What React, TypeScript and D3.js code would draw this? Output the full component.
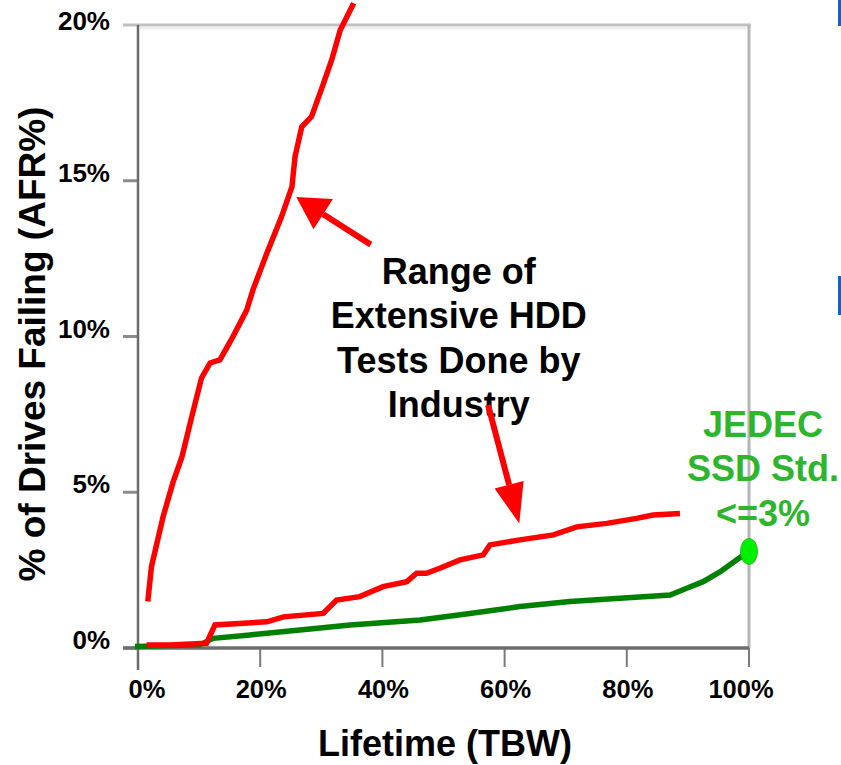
import React from "react";
import * as d3 from "d3";

const xTicks = [0, 20, 40, 60, 80, 100];
const yTicks = [0, 5, 10, 15, 20];

const hddHighX = [1.6, 2.2, 3.1, 4.1, 5.7, 7.2, 8.8, 10.4, 11.8, 13.4, 15.5, 17.8, 18.8, 21.1, 23.5, 25.2, 25.7, 26.8, 28.4, 30.1, 31.7, 33.1, 35.3];
const hddHighY = [1.49, 2.61, 3.37, 4.21, 5.3, 6.14, 7.43, 8.67, 9.15, 9.25, 9.98, 10.85, 11.49, 12.68, 13.85, 14.81, 15.77, 16.73, 17.06, 17.98, 18.88, 19.84, 20.7];

const hddLowX = [1.4, 5.2, 11.2, 12.6, 21.1, 23.8, 30.3, 32.5, 36.3, 40.1, 44.0, 45.6, 47.2, 49.4, 52.7, 56.5, 57.6, 62.5, 68.0, 71.8, 76.7, 81.6, 84.3, 88.7];
const hddLowY = [0.1, 0.1, 0.15, 0.74, 0.84, 1.0, 1.11, 1.54, 1.65, 1.97, 2.13, 2.4, 2.4, 2.56, 2.83, 2.99, 3.31, 3.47, 3.63, 3.89, 4.0, 4.16, 4.27, 4.32];

const ssdX = [-0.5, 10.1, 12.3, 18.3, 26.5, 34.7, 46.2, 54.3, 62.5, 70.7, 78.9, 87.1, 89.8, 92.5, 95.3, 98.0, 99.9];
const ssdY = [0.05, 0.1, 0.31, 0.42, 0.58, 0.74, 0.9, 1.11, 1.33, 1.49, 1.6, 1.7, 1.92, 2.13, 2.45, 2.83, 3.09];

const jedecPoint = { x: 100, y: 3.1 };

const hddLabel = ["Range of", "Extensive HDD", "Tests Done by", "Industry"];
const hddLabelPos = { x: 52.5, y: 11.68 };
const jedecLabel = ["JEDEC", "SSD Std.", "<=3%"];
const jedecLabelPos = { x: 102.3, y: 6.77 };

const arrowTails = [
  { x: 38.1, y: 12.95 },
  { x: 57.3, y: 7.8 },
];
const arrowTips = [
  { x: 25.9, y: 14.48 },
  { x: 62.4, y: 4.0 },
];

const xTitle = "Lifetime (TBW)";
const yTitle = "% of Drives Failing (AFR%)";

const W = 841;
const H = 765;
const FONT = "'Liberation Sans', Arial, sans-serif";

export default function App() {
  const x = d3.scaleLinear().domain([0, 100]).range([138, 749]);
  const y = d3.scaleLinear().domain([0, 20]).range([648, 25]);

  const line = d3
    .line<[number, number]>()
    .x((d) => x(d[0]))
    .y((d) => y(d[1]))
    .curve(d3.curveLinear);

  const zip = (a: number[], b: number[]) => a.map((v, i) => [v, b[i]] as [number, number]);

  const headSizes = [
    { L: 32, W: 18 },
    { L: 40, W: 15 },
  ];

  const arrows = arrowTails.map((t, i) => {
    const tx = x(t.x), ty = y(t.y);
    const px = x(arrowTips[i].x), py = y(arrowTips[i].y);
    const dx = px - tx, dy = py - ty;
    const len = Math.hypot(dx, dy);
    const ux = dx / len, uy = dy / len;
    const { L, W: hw } = headSizes[i];
    const bx = px - ux * L, by = py - uy * L;
    const nx = -uy, ny = ux;
    const head = [
      [px, py],
      [bx + nx * hw, by + ny * hw],
      [bx - nx * hw, by - ny * hw],
    ];
    return { tx, ty, bx, by, head };
  });

  const lineGap = 44.3;

  return (
    <div style={{ position: "absolute", left: 0, top: 0, width: W, height: H, background: "#fff" }}>
      <svg width={W} height={H} style={{ display: "block" }}>
        <rect x={0} y={0} width={W} height={H} fill="#fff" />
        {/* frame */}
        <line x1={123} x2={751} y1={y(20)} y2={y(20)} stroke="#c0c0c0" strokeWidth={3} />
        <line x1={140} x2={748} y1={y(20) + 3} y2={y(20) + 3} stroke="#eeeeee" strokeWidth={3} />
        <line x1={x(100)} x2={x(100)} y1={y(20)} y2={y(0)} stroke="#b5b5b5" strokeWidth={3} />

        {/* y ticks */}
        {yTicks.filter((t) => t !== 20).map((t) => (
          <line key={"yt" + t} x1={123} x2={x(0)} y1={y(t)} y2={y(t)} stroke="#8c8c8c" strokeWidth={3} />
        ))}
        {/* x ticks */}
        {xTicks.filter((t) => t !== 0).map((t) => (
          <line key={"xt" + t} x1={x(t)} x2={x(t)} y1={y(0)} y2={y(0) + 19} stroke="#7a7a7a" strokeWidth={2} />
        ))}
        {/* axes */}
        <line x1={x(0)} x2={x(0)} y1={y(20)} y2={y(0) + 22} stroke="#6b6b6b" strokeWidth={2.5} />
        <line x1={123} x2={x(100)} y1={y(0)} y2={y(0)} stroke="#6e6e6e" strokeWidth={3.5} />

        {/* y labels */}
        {yTicks.map((t) => (
          <text key={"yl" + t} x={110} y={y(t) + (t === 20 ? 5 : 1)} textAnchor="end" fontFamily={FONT} fontWeight="bold" fontSize={26} fill="#000">
            {t + "%"}
          </text>
        ))}
        {/* x labels */}
        {xTicks.map((t, i) => (
          <text key={"xl" + t} x={x(t) + (i === 0 ? 9 : i === xTicks.length - 1 ? -8 : 1)} y={698} textAnchor="middle" fontFamily={FONT} fontWeight="bold" fontSize={25.5} fill="#000">
            {t + "%"}
          </text>
        ))}

        {/* titles */}
        <text x={445} y={756} textAnchor="middle" fontFamily={FONT} fontWeight="bold" fontSize={36} fill="#000">
          {xTitle}
        </text>
        <text transform="translate(45,344) rotate(-90)" textAnchor="middle" fontFamily={FONT} fontWeight="bold" fontSize={37} fill="#000">
          {yTitle}
        </text>

        {/* curves */}
        <path d={line(zip(ssdX, ssdY)) || ""} fill="none" stroke="#008000" strokeWidth={5.5} />
        <path d={line(zip(hddLowX, hddLowY)) || ""} fill="none" stroke="#ff0000" strokeWidth={5.5} />
        <path d={line(zip(hddHighX, hddHighY)) || ""} fill="none" stroke="#ff0000" strokeWidth={5.5} />
        <ellipse cx={x(jedecPoint.x)} cy={y(jedecPoint.y)} rx={8.5} ry={13} fill="#00f000" stroke="#22c022" strokeWidth={1} />

        {/* annotation text */}
        {hddLabel.map((s, i) => (
          <text key={"hl" + i} x={x(hddLabelPos.x)} y={y(hddLabelPos.y) + i * lineGap} textAnchor="middle" fontFamily={FONT} fontWeight="bold" fontSize={36} fill="#000">
            {s}
          </text>
        ))}
        {jedecLabel.map((s, i) => (
          <text key={"jl" + i} x={x(jedecLabelPos.x)} y={y(jedecLabelPos.y) + i * lineGap} textAnchor="middle" fontFamily={FONT} fontWeight="bold" fontSize={36} fill="#2db52d">
            {s}
          </text>
        ))}

        {/* arrows */}
        {arrows.map((a, i) => (
          <g key={"ar" + i}>
            <line x1={a.tx} y1={a.ty} x2={a.bx} y2={a.by} stroke="#ff0000" strokeWidth={6} />
            <polygon points={a.head.map((p) => p.join(",")).join(" ")} fill="#ff0000" />
          </g>
        ))}

        {/* blue edge marks */}
        <rect x={838} y={0} width={3} height={26} fill="#0a64d6" />
        <rect x={838} y={276} width={3} height={39} fill="#0a64d6" />
      </svg>
    </div>
  );
}
